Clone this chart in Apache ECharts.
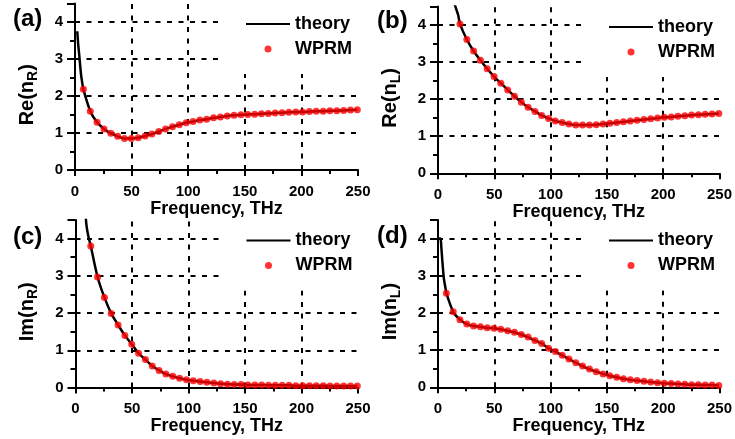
<!DOCTYPE html>
<html>
<head>
<meta charset="utf-8">
<script src="https://cdn.jsdelivr.net/npm/echarts@6/dist/echarts.min.js"></script>
<style>
html,body{margin:0;padding:0;background:#fff;}
#c{width:735px;height:439px;}
</style>
</head>
<body>
<div id="c"></div>
<script>
// ---------- DATA ----------
const freq = [7.4, 13.5, 19.5, 25.6, 31.6, 37.7, 43.7, 49.8, 55.8, 61.9, 67.9, 74.0, 80.0, 86.1, 92.1, 98.2,
  104.2, 110.3, 116.3, 122.4, 128.4, 134.5, 140.5, 146.6, 152.6, 158.7, 164.7, 170.8, 176.8, 182.9, 188.9,
  195.0, 201.0, 207.1, 213.1, 219.2, 225.2, 231.3, 237.3, 243.4, 249.4];

const wprmReR = [2.18, 1.59, 1.29, 1.11, 0.99, 0.91, 0.85, 0.85, 0.87, 0.92, 0.97, 1.04, 1.11, 1.17, 1.22, 1.28,
  1.31, 1.35, 1.37, 1.41, 1.43, 1.46, 1.48, 1.49, 1.50, 1.51, 1.52, 1.53, 1.54, 1.55, 1.56, 1.57, 1.57, 1.58,
  1.59, 1.59, 1.60, 1.60, 1.61, 1.62, 1.63];
const wprmReL = [null, null, 4.03, 3.61, 3.30, 3.05, 2.82, 2.61, 2.43, 2.25, 2.08, 1.92, 1.78, 1.67, 1.56, 1.48,
  1.41, 1.37, 1.33, 1.30, 1.30, 1.30, 1.31, 1.33, 1.35, 1.37, 1.39, 1.41, 1.43, 1.45, 1.47, 1.49, 1.51, 1.52,
  1.54, 1.55, 1.57, 1.58, 1.59, 1.60, 1.61];
const wprmImR = [null, 3.80, 2.97, 2.42, 1.99, 1.68, 1.40, 1.16, 0.92, 0.75, 0.58, 0.46, 0.36, 0.30, 0.25, 0.21,
  0.18, 0.16, 0.14, 0.12, 0.10, 0.09, 0.08, 0.08, 0.07, 0.07, 0.07, 0.06, 0.06, 0.06, 0.06, 0.05, 0.05, 0.05,
  0.05, 0.05, 0.04, 0.04, 0.04, 0.04, 0.04];
const wprmImL = [2.53, 2.03, 1.82, 1.70, 1.65, 1.63, 1.60, 1.59, 1.56, 1.52, 1.48, 1.42, 1.35, 1.26, 1.18, 1.05,
  0.96, 0.86, 0.76, 0.66, 0.57, 0.49, 0.42, 0.36, 0.31, 0.27, 0.23, 0.20, 0.18, 0.16, 0.14, 0.12, 0.11, 0.10,
  0.09, 0.08, 0.07, 0.07, 0.06, 0.06, 0.05];

// theory curve: extra points before the first WPRM sample (the curve then follows the samples)
const theoryLeadReR = [[2.0, 3.75], [2.8, 3.40], [3.7, 3.12], [5.2, 2.62], [6.3, 2.37]];
const theoryLeadReL = [[14.0, 4.70], [15.0, 4.54], [17.9, 4.27]];
const theoryLeadImR = [[8.8, 4.70], [9.7, 4.36], [11.2, 4.09]];
const theoryLeadImL = [[0.5, 4.00], [2.2, 4.00], [3.0, 3.75], [3.7, 3.46], [5.2, 2.93], [6.7, 2.66]];

const xTicks = [0, 50, 100, 150, 200, 250];
const yTicks = [0, 1, 2, 3, 4];
const gridX = [50, 100, 150, 200];
const gridY = [1, 2, 3, 4];
const panelLabels = ['(a)', '(b)', '(c)', '(d)'];
const yNames = ['{m|Re(n}{s|R}{m|)}', '{m|Re(n}{s|L}{m|)}', '{m|Im(n}{s|R}{m|)}', '{m|Im(n}{s|L}{m|)}'];
const xName = 'Frequency, THz';
const legendNames = ['theory', 'WPRM'];

// ---------- LAYOUT ----------
const FONT = '"Liberation Sans", Arial, sans-serif';
const panels = [
  {left: 75, top: 3.5, width: 283, height: 166.5, label: [13, 7], values: wprmReR, lead: theoryLeadReR},
  {left: 438, top: 6.5, width: 282, height: 166.8, label: [377, 9], values: wprmReL, lead: theoryLeadReL},
  {left: 75.5, top: 220, width: 282.5, height: 167.5, label: [13, 225], values: wprmImR, lead: theoryLeadImR},
  {left: 438, top: 220, width: 282, height: 167.3, label: [377, 224], values: wprmImL, lead: theoryLeadImL}
];

const option = {
  animation: false,
  backgroundColor: '#fff',
  grid: [], xAxis: [], yAxis: [], series: [], legend: [], graphic: []
};

const dashStyle = {color: '#000', width: 2, type: [5, 6.5]};

panels.forEach((p, i) => {
  option.grid.push({left: p.left, top: p.top, width: p.width, height: p.height, containLabel: false});
  option.xAxis.push({
    type: 'value', gridIndex: i, min: xTicks[0], max: xTicks[xTicks.length - 1], interval: 50,
    name: xName, nameLocation: 'middle', nameGap: 22,
    nameTextStyle: {fontSize: 18, fontWeight: 'bold', fontFamily: FONT, color: '#000'},
    axisLine: {show: true, onZero: false, lineStyle: {color: '#000', width: 2}},
    axisTick: {show: true, inside: false, length: 6, lineStyle: {color: '#000', width: 2}},
    minorTick: {show: true, splitNumber: 2, length: 4, lineStyle: {color: '#000', width: 2}},
    axisLabel: {fontSize: 15, fontWeight: 'bold', fontFamily: FONT, color: '#000', margin: 14},
    splitLine: {show: false}
  });
  option.yAxis.push({
    type: 'value', gridIndex: i, min: yTicks[0], max: 4.5, interval: 1,
    name: yNames[i], nameLocation: 'middle', nameGap: 35,
    nameTextStyle: {
      fontSize: 20, fontWeight: 'bold', fontFamily: FONT, color: '#000', padding: [0, 16, 0, 0],
      rich: {
        m: {fontSize: 20, fontWeight: 'bold', fontFamily: FONT, color: '#000', lineHeight: 26},
        s: {fontSize: 14, fontWeight: 'bold', fontFamily: FONT, color: '#000', lineHeight: 11, verticalAlign: 'bottom'}
      }
    },
    axisLine: {show: true, onZero: false, lineStyle: {color: '#000', width: 2}},
    axisTick: {show: true, inside: false, length: 8, lineStyle: {color: '#000', width: 2}},
    minorTick: {show: true, splitNumber: 2, length: 5, lineStyle: {color: '#000', width: 2}},
    axisLabel: {
      fontSize: 15, fontWeight: 'bold', fontFamily: FONT, color: '#000', margin: 12,
      formatter: v => (yTicks.indexOf(v) >= 0 ? String(v) : '')
    },
    splitLine: {show: false}
  });

  const theoryData = p.lead.concat(freq.map((f, k) => [f, p.values[k]]).filter(d => d[1] !== null));
  const wprmData = freq.map((f, k) => [f, p.values[k]]).filter(d => d[1] !== null);

  option.series.push({
    name: legendNames[0], type: 'line', xAxisIndex: i, yAxisIndex: i, z: 2,
    data: theoryData, symbol: 'none', smooth: 0.25, clip: true,
    lineStyle: {color: '#000', width: 2.5}, itemStyle: {color: '#000'},
    markLine: {
      silent: true, z: 1, symbol: ['none', 'none'], label: {show: false}, animation: false,
      lineStyle: dashStyle,
      data: gridY.map(v => ({yAxis: v})).concat(gridX.map(v => ({xAxis: v})))
    }
  });
  option.series.push({
    name: legendNames[1], type: 'scatter', xAxisIndex: i, yAxisIndex: i, z: 3,
    data: wprmData, symbol: 'circle', symbolSize: 7,
    itemStyle: {color: '#ff0000'}
  });

  option.legend.push({
    data: [
      {name: legendNames[0], itemStyle: {opacity: 0}},
      {name: legendNames[1]}
    ],
    orient: 'vertical', z: 20,
    left: p.left + 146, top: p.top,
    padding: [11.5, 10, 16, 24], itemGap: 7, itemWidth: 44, itemHeight: 7,
    backgroundColor: '#fff', borderWidth: 0, selectedMode: false,
    textStyle: {fontSize: 18, fontWeight: 'bold', fontFamily: FONT, color: '#000'}
  });

  option.graphic.push({
    type: 'text', left: p.label[0], top: p.label[1], z: 30,
    style: {text: panelLabels[i], font: 'bold 24px ' + FONT, fill: '#000'}
  });
});

const chart = echarts.init(document.getElementById('c'), null, {renderer: 'canvas'});
chart.setOption(option);
</script>
</body>
</html>
